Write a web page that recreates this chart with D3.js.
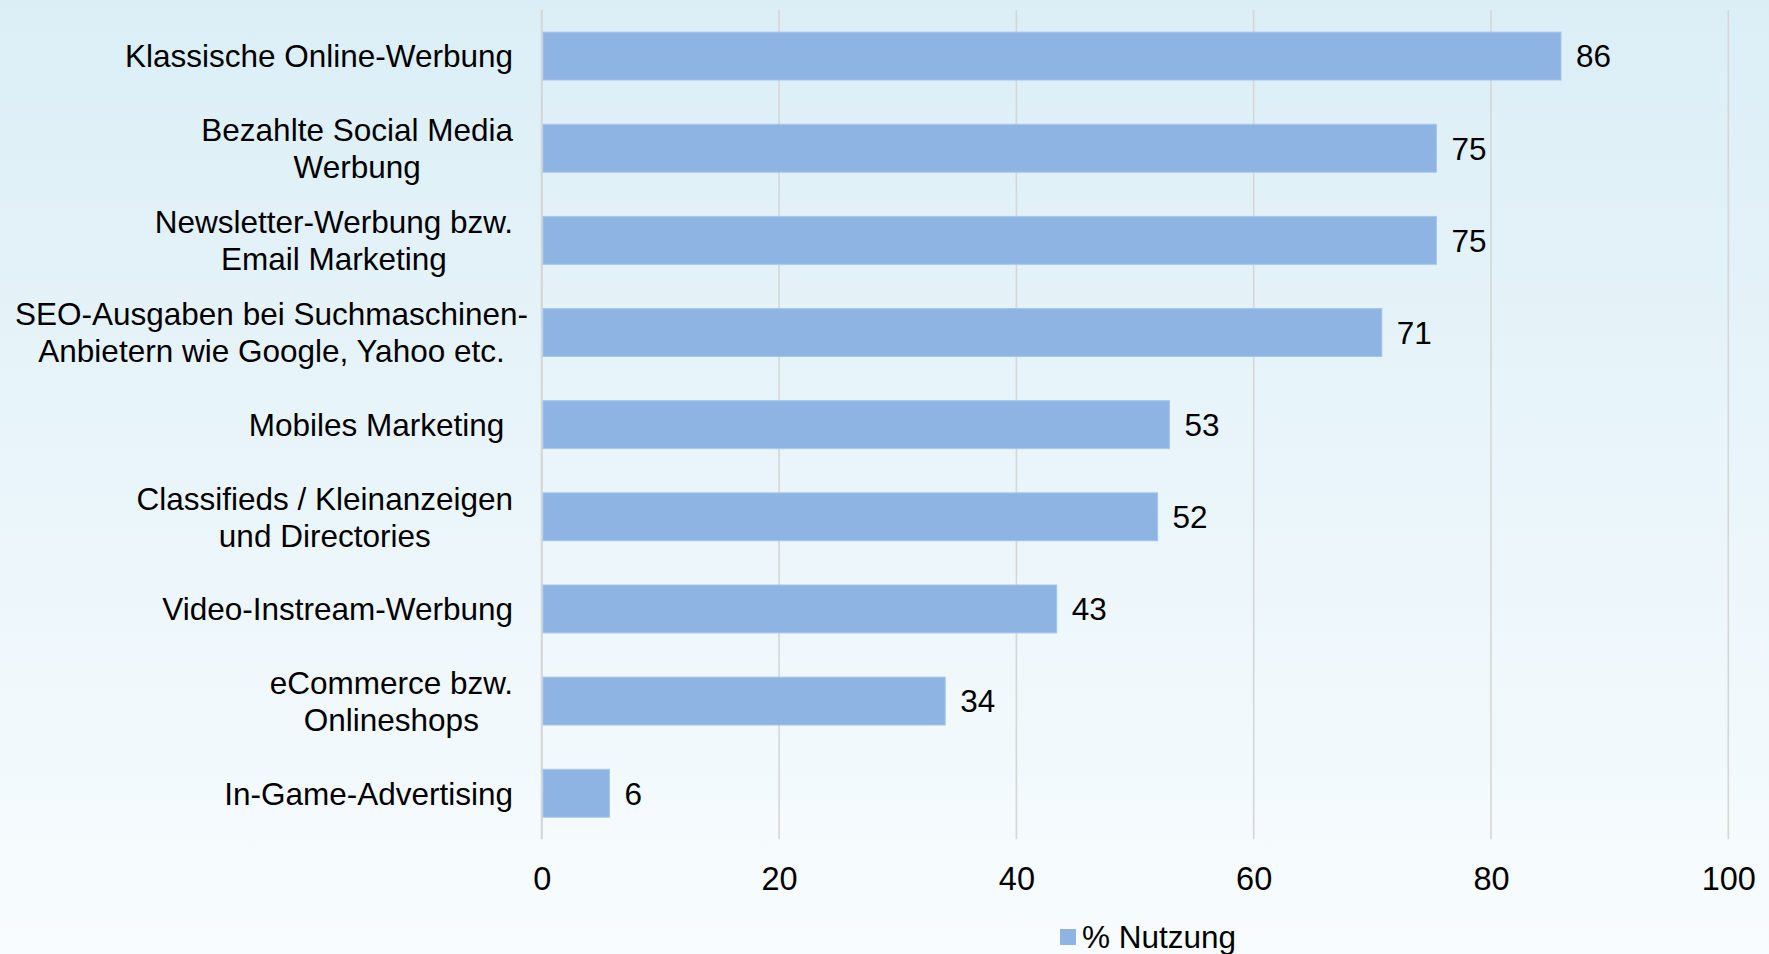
<!DOCTYPE html>
<html>
<head>
<meta charset="utf-8">
<script src="https://cdn.jsdelivr.net/npm/d3@7"></script>
<style>
  html, body { margin: 0; padding: 0; }
  svg { display: block; }
  text { font-family: "Liberation Sans", Arial, sans-serif; fill: #000; }
</style>
</head>
<body>
<script>
const categories = [
  ["Klassische Online-Werbung"],
  ["Bezahlte Social Media", "Werbung"],
  ["Newsletter-Werbung bzw.", "Email Marketing"],
  ["SEO-Ausgaben bei Suchmaschinen-", "Anbietern wie Google, Yahoo etc."],
  ["Mobiles Marketing "],
  ["Classifieds / Kleinanzeigen", "und Directories"],
  ["Video-Instream-Werbung"],
  ["eCommerce bzw.", "Onlineshops"],
  ["In-Game-Advertising"]
];
const values = [85.9, 75.4, 75.4, 70.8, 52.9, 51.9, 43.4, 34.0, 5.7];
const xTicks = [0, 20, 40, 60, 80, 100];
const seriesName = "% Nutzung";

const W = 1769, H = 954;
const m = { left: 541.8, right: 1769 - 1728.3, top: 10, bottom: 954 - 839.3 };
const fontSize = 31.5;
const fmt = d3.format(".0f");

const svg = d3.select("body").append("svg").attr("width", W).attr("height", H);

const defs = svg.append("defs");
const grad = defs.append("linearGradient").attr("id", "bg").attr("x1", 0).attr("y1", 0).attr("x2", 0).attr("y2", 1);
grad.append("stop").attr("offset", "0%").attr("stop-color", "#dbeef6");
grad.append("stop").attr("offset", "100%").attr("stop-color", "#f8fcfe");
svg.append("rect").attr("width", W).attr("height", H).attr("fill", "url(#bg)");

const x = d3.scaleLinear().domain([0, 100]).range([m.left, W - m.right]);
const y = d3.scaleBand().domain(d3.range(categories.length)).range([m.top, H - m.bottom]).paddingInner(0.48).paddingOuter(0.24);

// gridlines
svg.append("g").selectAll("line").data(xTicks).join("line")
  .attr("x1", d => x(d)).attr("x2", d => x(d))
  .attr("y1", m.top).attr("y2", H - m.bottom)
  .attr("stroke", "#d6d6d6").attr("stroke-width", d => d === 0 ? 2.2 : 1.6);

// bars
svg.append("g").selectAll("rect").data(values).join("rect")
  .attr("x", x(0) + 1.2)
  .attr("y", (d, i) => y(i))
  .attr("width", d => x(d) - x(0) - 1.2)
  .attr("height", y.bandwidth())
  .attr("fill", "#8eb4e3")
  .attr("stroke", "#a6c6ec").attr("stroke-width", 1);

// value labels
svg.append("g").selectAll("text").data(values).join("text")
  .attr("x", d => x(d) + 15)
  .attr("y", (d, i) => y(i) + y.bandwidth() / 2)
  .attr("dy", "0.36em")
  .attr("font-size", fontSize)
  .text(d => fmt(d));

// x axis labels
const xAxis = d3.axisBottom(x).tickValues(xTicks).tickSize(0).tickPadding(0);
const gx = svg.append("g").attr("transform", `translate(0, ${H - m.bottom + 38.5})`).call(xAxis);
gx.select(".domain").remove();
gx.selectAll("text").attr("font-size", fontSize + 1).attr("font-family", "Liberation Sans, Arial, sans-serif").attr("fill", "#000").attr("dy", "0.36em");

// category labels (multi-line, centered lines, block right-aligned)
const labelRight = 513, labelMinLeft = 15, lineH = 37;
const lg = svg.append("g");
categories.forEach((lines, i) => {
  const t = lg.append("text").attr("font-size", fontSize).attr("text-anchor", "middle").style("white-space", "pre");
  const cy = y(i) + y.bandwidth() / 2;
  const n = lines.length;
  lines.forEach((ln, j) => {
    t.append("tspan").attr("x", 0).attr("y", cy + (j - (n - 1) / 2) * lineH).attr("dy", "0.36em").text(ln);
  });
  let w = 0;
  t.selectAll("tspan").each(function() { w = Math.max(w, this.getComputedTextLength()); });
  const cx = Math.max(labelRight - w / 2, labelMinLeft + w / 2);
  t.selectAll("tspan").attr("x", cx);
});

// legend
const leg = svg.append("g").attr("transform", `translate(1060, 937)`);
leg.append("rect").attr("x", 0).attr("y", -8).attr("width", 16).attr("height", 16).attr("fill", "#8eb4e3");
leg.append("text").attr("x", 22).attr("y", 0).attr("dy", "0.36em").attr("font-size", fontSize).text(seriesName);
</script>
</body>
</html>
